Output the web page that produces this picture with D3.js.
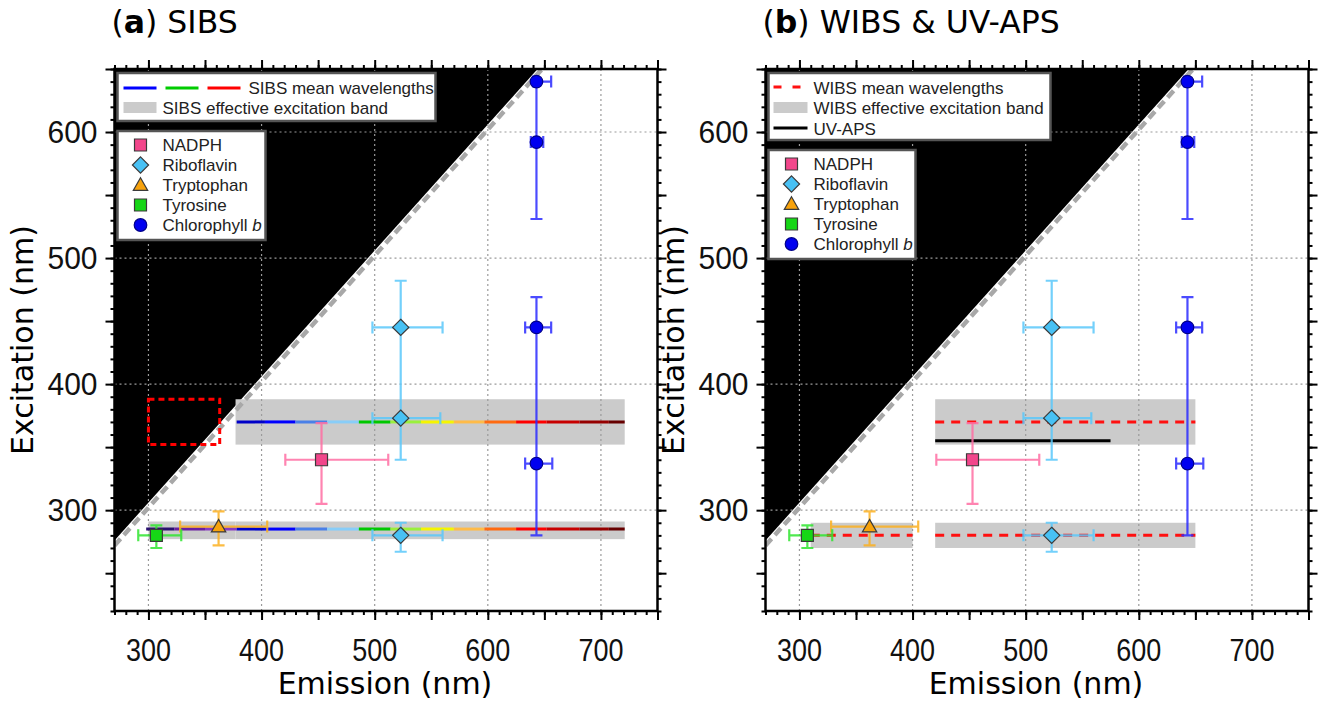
<!DOCTYPE html>
<html><head><meta charset="utf-8">
<script src="https://cdn.jsdelivr.net/npm/d3@7"></script>
<style>body{margin:0;background:#fff;} svg{display:block;}</style>
</head><body><svg width="1320" height="702"></svg>
<script>
// ---------------- data (nm) ----------------
const xDomain = [270, 750];
const yDomain = [220, 650];
const xTicks = [300, 400, 500, 600, 700];
const yTicks = [300, 400, 500, 600];

const panelTitles = [["a", "SIBS"], ["b", "WIBS & UV-APS"]];

const compoundNames = ["NADPH", "Riboflavin", "Tryptophan", "Tyrosine", "Chlorophyll b"];
const compoundFill  = ["#f2468b", "#48c1f4", "#f7a20c", "#16d616", "#0000f0"];
const compoundBar   = ["#ff6ea3", "#5ac8fa", "#fbb021", "#30e530", "#2b2bff"];
const compoundShape = ["square", "diamond", "triangle", "square", "circle"];

// one entry per measured point
const pointCompound = [0,   1,   1,   1,   2,   3,   4,   4,   4,   4];
const pointEm       = [453, 523, 523, 523, 362, 307, 643, 643, 643, 643];
const pointEx       = [340, 445, 373, 280, 287, 280, 640, 592, 445, 337];
const pointEmLo     = [421, 498, 498, 498, 328, 291, 640, 638, 633, 633];
const pointEmHi     = [512, 560, 558, 560, 405, 329, 656, 649, 656, 657];
const pointExLo     = [305, 340, 373, 267, 272, 270, 640, 531, 280, 337];
const pointExHi     = [369, 482, 373, 290, 299, 288, 640, 640, 469, 337];

// SIBS: 16 emission channels
const sibsEdges  = [298, 323, 350, 378, 403, 430, 458, 486, 514, 541, 570, 597, 625, 652, 681, 707, 721];
const sibsColors = ["#2a1070", "#6a1fa0", "#8a3cc0", "#0000c8", "#0000ff", "#4a80e8", "#88cdf8", "#00c800",
                    "#9af03c", "#f5f500", "#ffbb48", "#ff6a10", "#ff0000", "#c80000", "#960000", "#660000"];
const sibsExcitation = [285, 370];
const sibsFirstChannel = [0, 3];
// bands: emFrom, emTo, exFrom, exTo
const sibsBands = [[377, 721, 352, 388], [300, 377, 277, 291], [377, 721, 277, 291]];
const sibsBox = [300, 363, 352, 388];

const wibsBands = [[420, 650, 352, 388], [310, 400, 270, 290], [420, 650, 270, 290]];
const wibsLines = [[420, 650, 370], [310, 400, 280], [420, 650, 280]];
const uvapsLine = [420, 575, 355];

// ---------------- drawing ----------------
const svg = d3.select("svg");
const plotTop = 69, plotBottom = 611;
const panelLeft = [114.5, 765.5];
const plotWidth = 543;
const tickFont = "Liberation Sans, Arial, sans-serif";
const titleFont = "DejaVu Sans, Verdana, sans-serif";

function markerPath(shape, s) {
  if (shape == "square") return "M" + (-s) + "," + (-s) + "h" + 2*s + "v" + 2*s + "h" + (-2*s) + "Z";
  if (shape == "diamond") { let d = s * 1.35; return "M0," + (-d) + "L" + d + ",0L0," + d + "L" + (-d) + ",0Z"; }
  if (shape == "triangle") { let d = s * 1.2; return "M0," + (-d) + "L" + d + "," + (d*0.75) + "L" + (-d) + "," + (d*0.75) + "Z"; }
  return d3.arc()({innerRadius: 0, outerRadius: s * 1.05, startAngle: 0, endAngle: 2 * Math.PI});
}

function drawPanel(p) {
  let left = panelLeft[p];
  let x = d3.scaleLinear().domain(xDomain).range([left, left + plotWidth]);
  let y = d3.scaleLinear().domain(yDomain).range([plotBottom, plotTop]);

  let clipId = "clip" + p;
  svg.append("clipPath").attr("id", clipId).append("rect")
    .attr("x", x(xDomain[0])).attr("y", y(yDomain[1]))
    .attr("width", plotWidth).attr("height", plotBottom - plotTop);
  let g = svg.append("g").attr("clip-path", "url(#" + clipId + ")");

  // black region (excitation > emission)
  let off = 6;
  g.append("path")
    .attr("d", "M" + x(xDomain[0]) + "," + y(xDomain[0] + off) +
               "L" + x(xDomain[0]) + "," + y(yDomain[1]) +
               "L" + x(yDomain[1] - off) + "," + y(yDomain[1]) + "Z")
    .attr("fill", "#000");

  // bands
  let bands = p == 0 ? sibsBands : wibsBands;
  g.selectAll(".band").data(bands).enter().append("rect")
    .attr("x", d => x(d[0])).attr("width", d => x(d[1]) - x(d[0]))
    .attr("y", d => y(d[3])).attr("height", d => y(d[2]) - y(d[3]))
    .attr("fill", "#cbcbcb");

  // grid
  g.selectAll(".gx").data(xTicks).enter().append("line")
    .attr("x1", d => x(d)).attr("x2", d => x(d)).attr("y1", plotTop).attr("y2", plotBottom)
    .attr("stroke", "#9a9a9a").attr("stroke-width", 1.2).attr("stroke-dasharray", "2,3");
  g.selectAll(".gy").data(yTicks).enter().append("line")
    .attr("y1", d => y(d)).attr("y2", d => y(d)).attr("x1", left).attr("x2", left + plotWidth)
    .attr("stroke", "#9a9a9a").attr("stroke-width", 1.2).attr("stroke-dasharray", "2,3");

  // 1:1 dashed line
  g.append("line")
    .attr("x1", x(xDomain[0])).attr("y1", y(xDomain[0] + 2))
    .attr("x2", x(yDomain[1])).attr("y2", y(yDomain[1] + 2))
    .attr("stroke", "#a8a8a8").attr("stroke-width", 4.5).attr("stroke-dasharray", "9,5");

  if (p == 0) {
    sibsExcitation.forEach(function(ex, i) {
      let segs = d3.range(sibsFirstChannel[i], sibsColors.length);
      g.selectAll(".seg" + i).data(segs).enter().append("line")
        .attr("x1", k => x(sibsEdges[k])).attr("x2", k => x(sibsEdges[k + 1]))
        .attr("y1", y(ex)).attr("y2", y(ex))
        .attr("stroke", k => sibsColors[k]).attr("stroke-width", 3);
    });
  } else {
    g.selectAll(".wl").data(wibsLines).enter().append("line")
      .attr("x1", d => x(d[0])).attr("x2", d => x(d[1]))
      .attr("y1", d => y(d[2])).attr("y2", d => y(d[2]))
      .attr("stroke", "#ff1010").attr("stroke-width", 3).attr("stroke-dasharray", "9,7");
    g.append("line")
      .attr("x1", x(uvapsLine[0])).attr("x2", x(uvapsLine[1]))
      .attr("y1", y(uvapsLine[2])).attr("y2", y(uvapsLine[2]))
      .attr("stroke", "#000").attr("stroke-width", 3);
  }

  // error bars
  let idx = d3.range(pointEm.length);
  let cap = 6;
  let eb = g.append("g").attr("fill", "none").attr("stroke-width", 2.2).attr("stroke-opacity", 0.85);
  idx.forEach(function(i) {
    let c = compoundBar[pointCompound[i]];
    let px = x(pointEm[i]), py = y(pointEx[i]);
    if (pointEmHi[i] > pointEmLo[i]) {
      eb.append("path").attr("stroke", c)
        .attr("d", "M" + x(pointEmLo[i]) + "," + py + "H" + x(pointEmHi[i]) +
                   "M" + x(pointEmLo[i]) + "," + (py - cap) + "v" + 2*cap +
                   "M" + x(pointEmHi[i]) + "," + (py - cap) + "v" + 2*cap);
    }
    if (pointExHi[i] > pointExLo[i]) {
      eb.append("path").attr("stroke", c)
        .attr("d", "M" + px + "," + y(pointExLo[i]) + "V" + y(pointExHi[i]) +
                   "M" + (px - cap) + "," + y(pointExLo[i]) + "h" + 2*cap +
                   "M" + (px - cap) + "," + y(pointExHi[i]) + "h" + 2*cap);
    }
  });

  // markers
  g.selectAll(".pt").data(idx).enter().append("path")
    .attr("transform", i => "translate(" + x(pointEm[i]) + "," + y(pointEx[i]) + ")")
    .attr("d", i => markerPath(compoundShape[pointCompound[i]], 6))
    .attr("fill", i => compoundFill[pointCompound[i]])
    .attr("stroke", i => pointCompound[i] == 4 ? "#00008a" : "#3a3a3a").attr("stroke-width", 1.2);

  if (p == 0) {
    g.append("rect")
      .attr("x", x(sibsBox[0])).attr("width", x(sibsBox[1]) - x(sibsBox[0]))
      .attr("y", y(sibsBox[3])).attr("height", y(sibsBox[2]) - y(sibsBox[3]))
      .attr("fill", "none").attr("stroke", "#ff0000").attr("stroke-width", 3)
      .attr("stroke-dasharray", "6,4");
  }

  // axes (ticks only, labels drawn separately)
  let xMinor = d3.range(270, 751, 10), xMajor = d3.range(300, 751, 50);
  let yMinor = d3.range(220, 651, 10), yMajor = d3.range(250, 651, 50);
  function addAxis(axisFn, scale, minor, major, tx, ty) {
    let ax = svg.append("g").attr("transform", "translate(" + tx + "," + ty + ")");
    ax.append("g").call(axisFn(scale).tickValues(minor).tickSize(4).tickFormat(""));
    ax.append("g").call(axisFn(scale).tickValues(major).tickSize(9).tickFormat(""));
    ax.selectAll(".domain").remove();
    ax.selectAll("line").attr("stroke", "#000").attr("stroke-width", 2);
  }
  addAxis(d3.axisBottom, x, xMinor, xMajor, 0, plotBottom);
  addAxis(d3.axisTop, x, xMinor, xMajor, 0, plotTop);
  addAxis(d3.axisLeft, y, yMinor, yMajor, left, 0);
  addAxis(d3.axisRight, y, yMinor, yMajor, left + plotWidth, 0);

  svg.append("rect").attr("x", left).attr("y", plotTop)
    .attr("width", plotWidth).attr("height", plotBottom - plotTop)
    .attr("fill", "none").attr("stroke", "#000").attr("stroke-width", 2.5);

  // tick labels
  svg.selectAll(".xl" + p).data(xTicks).enter().append("text")
    .attr("transform", d => "translate(" + x(d) + ",650) scale(1,1.15)")
    .attr("text-anchor", "middle").attr("dy", "0.35em")
    .attr("font-family", tickFont).attr("font-size", 27).attr("fill", "#111")
    .text(d => d);
  svg.selectAll(".yl" + p).data(yTicks).enter().append("text")
    .attr("transform", d => "translate(" + (left - 17) + "," + y(d) + ") scale(1,1.05)")
    .attr("text-anchor", "end").attr("dy", "0.35em")
    .attr("font-family", tickFont).attr("font-size", 30).attr("fill", "#111")
    .text(d => d);

  // titles and axis labels
  let t = svg.append("text").attr("x", left - 3).attr("y", 33)
    .attr("font-family", titleFont).attr("font-size", 31.5).attr("fill", "#000");
  t.append("tspan").text("(");
  t.append("tspan").attr("font-weight", "bold").text(panelTitles[p][0]);
  t.append("tspan").text(") " + panelTitles[p][1]);

  svg.append("text").attr("x", left + plotWidth / 2 - 1).attr("y", 694)
    .attr("text-anchor", "middle")
    .attr("font-family", titleFont).attr("font-size", 30)
    .text("Emission (nm)");
  svg.append("text")
    .attr("transform", "translate(" + (left - 82) + "," + ((plotTop + plotBottom) / 2) + ") rotate(-90)")
    .attr("text-anchor", "middle")
    .attr("font-family", titleFont).attr("font-size", 30)
    .text("Excitation (nm)");

  // legends
  let lf = tickFont, fs = 17;
  let L1 = svg.append("g");
  let l1w = p == 0 ? 318 : 282, l1h = p == 0 ? 48 : 67;
  L1.append("rect").attr("x", left + 3).attr("y", 73).attr("width", l1w).attr("height", l1h)
    .attr("fill", "#fff").attr("stroke", "#555").attr("stroke-width", 2.5);
  if (p == 0) {
    ["#0000ff", "#00cc00", "#ff0000"].forEach(function(c, k) {
      L1.append("line").attr("x1", left + 9 + k * 42).attr("x2", left + 42 + k * 42)
        .attr("y1", 88).attr("y2", 88).attr("stroke", c).attr("stroke-width", 3);
    });
  } else {
    L1.append("line").attr("x1", left + 8).attr("x2", left + 42).attr("y1", 87).attr("y2", 87)
      .attr("stroke", "#ff1010").attr("stroke-width", 3).attr("stroke-dasharray", "8,11");
    L1.append("line").attr("x1", left + 8).attr("x2", left + 42).attr("y1", 128).attr("y2", 128)
      .attr("stroke", "#000").attr("stroke-width", 3);
  }
  L1.append("rect").attr("x", left + (p == 0 ? 9 : 8)).attr("y", 102)
    .attr("width", p == 0 ? 33 : 34).attr("height", 11).attr("fill", "#cbcbcb");
  let l1text = p == 0 ? ["SIBS mean wavelengths", "SIBS effective excitation band"]
                      : ["WIBS mean wavelengths", "WIBS effective excitation band", "UV-APS"];
  l1text.forEach(function(s, k) {
    L1.append("text").attr("x", k == 0 && p == 0 ? left + 134 : left + 48).attr("y", 88 + k * 20.3).attr("dy", "0.35em")
      .attr("font-family", lf).attr("font-size", fs).attr("fill", "#222").text(s);
  });

  let L2 = svg.append("g");
  let l2y = p == 0 ? 131 : 150;
  L2.append("rect").attr("x", left + 3).attr("y", l2y).attr("width", p == 0 ? 148 : 147).attr("height", 109)
    .attr("fill", "#fff").attr("stroke", "#555").attr("stroke-width", 2.5);
  compoundNames.forEach(function(name, k) {
    let cy = l2y + 14 + k * 20;
    L2.append("path").attr("transform", "translate(" + (left + 26) + "," + cy + ")")
      .attr("d", markerPath(compoundShape[k], 6))
      .attr("fill", compoundFill[k]).attr("stroke", k == 4 ? "#00008a" : "#3a3a3a").attr("stroke-width", 1.2);
    let tt = L2.append("text").attr("x", left + 48).attr("y", cy).attr("dy", "0.35em")
      .attr("font-family", lf).attr("font-size", fs).attr("fill", "#222");
    if (k == 4) {
      tt.append("tspan").text("Chlorophyll ");
      tt.append("tspan").attr("font-style", "italic").text("b");
    } else tt.text(name);
  });
}

drawPanel(0);
drawPanel(1);
</script>
</body></html>
